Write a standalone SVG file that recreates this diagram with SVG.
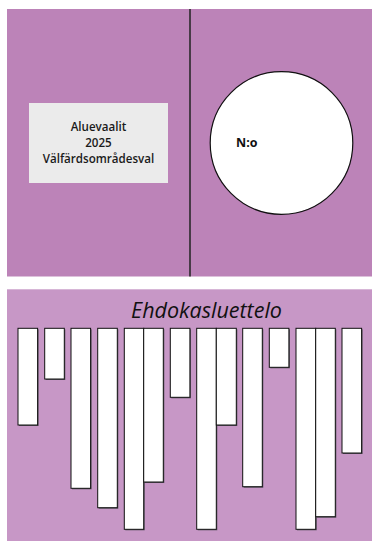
<svg xmlns="http://www.w3.org/2000/svg" width="372" height="541" viewBox="0 0 372 541">
<style>
.lbl{font-family:"Open Sans","Noto Sans",sans-serif;font-weight:600;font-size:11.6px;fill:#1a1a1a;text-anchor:middle}
.bar{fill:#fff;stroke:#111;stroke-width:1}
.sh{fill:#5a5560}
</style>
<g id="top-panel">
<rect x="7" y="9" width="365" height="267.5" fill="#bc83b8"/>
<line x1="190" y1="9" x2="190" y2="276.5" stroke="#222" stroke-width="1.5"/>
</g>
<g id="label-box">
<rect x="29" y="103" width="139" height="80" fill="#ebebeb"/>
<text class="lbl" x="98.5" y="130.5">Aluevaalit</text>
<text class="lbl" x="98.5" y="146.5">2025</text>
<text class="lbl" x="98.5" y="162.5">Välfärdsområdesval</text>
</g>
<g id="number-circle">
<circle cx="281.5" cy="143" r="71.3" fill="#fff" stroke="#111" stroke-width="1.2"/>
<text x="236" y="147" font-family="'Open Sans','Noto Sans',sans-serif" font-weight="700" font-size="12.5" fill="#111">N:o</text>
</g>
<g id="bottom-panel">
<rect x="7" y="289.3" width="365" height="252" fill="#c797c6"/>
<text x="206.5" y="317.5" font-family="'Open Sans','Noto Sans',sans-serif" font-style="italic" font-size="21.5" fill="#111" text-anchor="middle">Ehdokasluettelo</text>
</g>
<g id="bars">
<rect class="sh" x="19" y="329.3" width="19.6" height="96.7"/><rect class="bar" x="18" y="328.3" width="19.6" height="96.7"/>
<rect class="sh" x="45.7" y="329.3" width="19.6" height="50.7"/><rect class="bar" x="44.7" y="328.3" width="19.6" height="50.7"/>
<rect class="sh" x="72" y="329.3" width="19.6" height="160"/><rect class="bar" x="71" y="328.3" width="19.6" height="160"/>
<rect class="sh" x="98.7" y="329.3" width="19.6" height="179.4"/><rect class="bar" x="97.7" y="328.3" width="19.6" height="179.4"/>
<rect class="sh" x="125.3" y="329.3" width="19.4" height="201"/><rect class="bar" x="124.3" y="328.3" width="19.4" height="201"/>
<rect class="sh" x="144.7" y="329.3" width="19.6" height="153.7"/><rect class="bar" x="143.7" y="328.3" width="19.6" height="153.7"/>
<rect class="sh" x="171.3" y="329.3" width="19.6" height="69"/><rect class="bar" x="170.3" y="328.3" width="19.6" height="69"/>
<rect class="sh" x="197.7" y="329.3" width="19.6" height="201"/><rect class="bar" x="196.7" y="328.3" width="19.6" height="201"/>
<rect class="sh" x="217.3" y="329.3" width="20" height="96.7"/><rect class="bar" x="216.3" y="328.3" width="20" height="96.7"/>
<rect class="sh" x="243.7" y="329.3" width="19.6" height="158.4"/><rect class="bar" x="242.7" y="328.3" width="19.6" height="158.4"/>
<rect class="sh" x="270.3" y="329.3" width="19.6" height="39"/><rect class="bar" x="269.3" y="328.3" width="19.6" height="39"/>
<rect class="sh" x="297" y="329.3" width="19.7" height="201"/><rect class="bar" x="296" y="328.3" width="19.7" height="201"/>
<rect class="sh" x="316.7" y="329.3" width="19.6" height="188.4"/><rect class="bar" x="315.7" y="328.3" width="19.6" height="188.4"/>
<rect class="sh" x="343" y="329.3" width="19.6" height="124.7"/><rect class="bar" x="342" y="328.3" width="19.6" height="124.7"/>
</g>
</svg>
